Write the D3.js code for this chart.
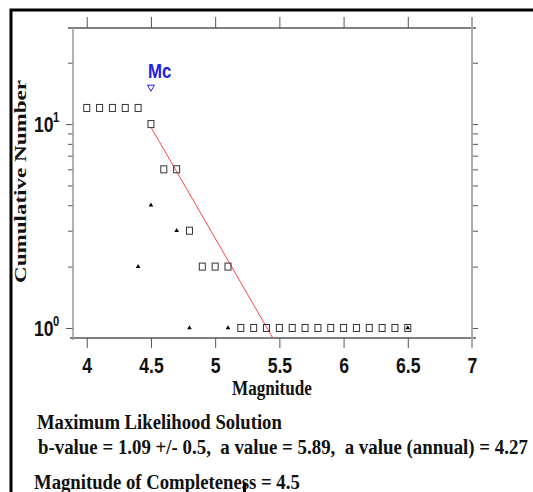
<!DOCTYPE html>
<html><head><meta charset="utf-8">
<script src="https://cdn.jsdelivr.net/npm/d3@7"></script>
<style>body{margin:0;background:#fff} svg{display:block}</style>
</head><body>
<svg id="c" width="533" height="492"></svg>
<script>
// ---- data ----
const magnitudes = [4.0,4.1,4.2,4.3,4.4,4.5,4.6,4.7,4.8,4.9,5.0,5.1,5.2,5.3,5.4,5.5,5.6,5.7,5.8,5.9,6.0,6.1,6.2,6.3,6.4,6.5];
const cumulativeCounts = [12,12,12,12,12,10,6,6,3,2,2,2,1,1,1,1,1,1,1,1,1,1,1,1,1,1];
const eventMagnitudes = [4.4,4.5,4.7,4.8,5.1,6.5];
const eventCounts = [2,4,3,1,1,1];
const xTicks = [4,4.5,5,5.5,6,6.5,7];
const xTickLabels = ["4","4.5","5","5.5","6","6.5","7"];
const yMajorTicks = [1,10];
const yMajorExponents = ["0","1"];
const yMinorTicks = [2,3,4,5,6,7,8,9,20];
const mc = 4.5;
const bValue = 1.09;
const aValue = 5.89;
const infoLines = [
  "Maximum Likelihood Solution",
  "b-value = 1.09 +/- 0.5,  a value = 5.89,  a value (annual) = 4.27",
  "Magnitude of Completeness = 4.5"
];

// ---- drawing ----
const svg = d3.select("#c");
const L = 73, R = 472, T = 28, B = 338;
const x = d3.scaleLinear().domain([3.893, 7]).range([L, R]);
const y = d3.scaleLog().domain([0.893, 29.6]).range([B, T]);

const SANS = "'Liberation Sans', Arial, sans-serif";
const SERIF = "'Liberation Serif', 'Times New Roman', serif";

function fit(sel, x0, base, width, anchor) {
  const n = sel.node();
  const len = n.getComputedTextLength();
  const s = width / len;
  const tx = anchor === "middle" ? x0 - width / 2 : x0;
  sel.attr("x", 0).attr("y", 0).attr("transform", `translate(${tx},${base}) scale(${s},1)`);
}

// outer frame
svg.append("path").attr("d", "M11,492 V10 H533").attr("fill", "none").attr("stroke", "#000").attr("stroke-width", 3);

// axes ticks
const allY = [...yMinorTicks, ...yMajorTicks];
const gB = svg.append("g").attr("transform", `translate(0,${B})`)
  .call(d3.axisBottom(x).tickValues(xTicks).tickSize(10).tickSizeOuter(0).tickPadding(9)
    .tickFormat((d, i) => xTickLabels[i]));
const gT = svg.append("g").attr("transform", `translate(0,${T})`)
  .call(d3.axisTop(x).tickValues(xTicks).tickSize(11).tickSizeOuter(0).tickFormat(""));
const gL = svg.append("g").attr("transform", `translate(${L},0)`)
  .call(d3.axisLeft(y).tickValues(allY).tickSize(5).tickSizeOuter(0).tickFormat(""));
const gR = svg.append("g").attr("transform", `translate(${R},0)`)
  .call(d3.axisRight(y).tickValues(allY).tickSize(6).tickSizeOuter(0).tickFormat(""));
[gB, gT, gL, gR].forEach(g => {
  g.select(".domain").remove();
  g.selectAll(".tick line").attr("stroke", "#555").attr("stroke-width", 1);
});
gL.selectAll(".tick line").attr("x2", d => yMajorTicks.includes(d) ? -7 : -5);
gB.selectAll(".tick text")
  .attr("font-family", SANS).attr("font-weight", "bold").attr("font-size", 22)
  .attr("fill", "#111").attr("transform", "scale(0.8,1)");

// frame lines
svg.append("line").attr("x1", 68).attr("x2", 476).attr("y1", T).attr("y2", T).attr("stroke", "#555").attr("stroke-width", 1.3);
svg.append("line").attr("x1", 70).attr("x2", 476).attr("y1", B).attr("y2", B).attr("stroke", "#555").attr("stroke-width", 1.3);
svg.append("line").attr("x1", L).attr("x2", L).attr("y1", T).attr("y2", B + 2).attr("stroke", "#999").attr("stroke-width", 1.5);
svg.append("line").attr("x1", R).attr("x2", R).attr("y1", 17).attr("y2", 348).attr("stroke", "#aaa").attr("stroke-width", 2);

// y tick labels 10^n
yMajorTicks.forEach((v, i) => {
  svg.append("text").attr("font-family", SANS).attr("font-weight", "bold")
    .attr("font-size", 22).attr("fill", "#111")
    .attr("transform", `translate(34,${y(v) + 8}) scale(0.8,1)`).text("10");
  svg.append("text").attr("font-family", SANS).attr("font-weight", "bold")
    .attr("font-size", 14).attr("fill", "#111")
    .attr("transform", `translate(53,${y(v) - 2}) scale(0.8,1)`).text(yMajorExponents[i]);
});

// axis titles
const yl = svg.append("text").attr("font-family", SERIF).attr("font-weight", "bold")
  .attr("font-size", 20).attr("fill", "#111").text("Cumulative Number");
{
  const len = yl.node().getComputedTextLength();
  const s = 203 / len;
  yl.attr("transform", `translate(26,283) rotate(-90) scale(${s},0.85)`);
}
const xl = svg.append("text").attr("font-family", SERIF).attr("font-weight", "bold")
  .attr("font-size", 21).attr("fill", "#111").text("Magnitude");
fit(xl, 272, 395, 80, "middle");

// fit line
svg.append("clipPath").attr("id", "pc").append("rect")
  .attr("x", L).attr("y", T).attr("width", R - L).attr("height", B - T);
const fitPts = [mc, 7].map(m => [m, Math.pow(10, aValue - bValue * m)]);
svg.append("path").attr("clip-path", "url(#pc)")
  .attr("d", d3.line().x(d => x(d[0])).y(d => y(d[1]))(fitPts))
  .attr("fill", "none").attr("stroke", "#ff4444").attr("stroke-width", 1);

// cumulative squares
svg.append("g").selectAll("rect").data(magnitudes).join("rect")
  .attr("x", (d) => x(d) - 3).attr("y", (d, i) => y(cumulativeCounts[i]) - 3.5)
  .attr("width", 6).attr("height", 7)
  .attr("fill", "none").attr("stroke", "#333").attr("stroke-width", 1);

// non-cumulative triangles
svg.append("g").selectAll("path").data(eventMagnitudes).join("path")
  .attr("transform", (d, i) => `translate(${x(d)},${y(eventCounts[i])})`)
  .attr("d", d3.symbol(d3.symbolTriangle).size(9))
  .attr("fill", "#000");

// Mc marker
const mcIdx = magnitudes.indexOf(mc);
const mcY = y(cumulativeCounts[mcIdx] * 1.5);
svg.append("path").attr("transform", `translate(${x(mc)},${mcY})`)
  .attr("d", "M-3.5,-3 L3.5,-3 L0,3 Z").attr("fill", "#fff").attr("stroke", "#2222ee").attr("stroke-width", 1);
svg.append("text").attr("font-family", SANS).attr("font-weight", "bold")
  .attr("font-size", 21).attr("fill", "#2020e0")
  .attr("transform", `translate(${x(mc) - 3},${mcY - 10}) scale(0.8,1)`).text("Mc");

// info text
const infoPos = [[37, 429, 245], [38, 454, 490], [34, 489, 266]];
infoLines.forEach((s, i) => {
  const t = svg.append("text").attr("font-family", SERIF).attr("font-weight", "bold")
    .attr("font-size", 21).attr("fill", "#111").style("white-space", "pre").text(s);
  fit(t, infoPos[i][0], infoPos[i][1], infoPos[i][2], "start");
});
// small cursor mark
svg.append("rect").attr("x", 243).attr("y", 483).attr("width", 3).attr("height", 9).attr("fill", "#000");
</script>
</body></html>
